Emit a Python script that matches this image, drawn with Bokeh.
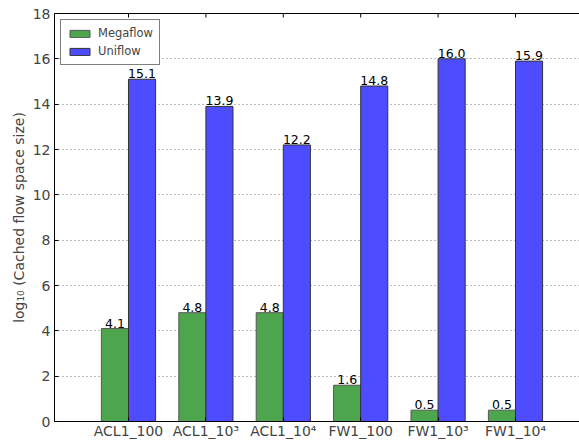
import math
from bokeh.plotting import figure
from bokeh.models import ColumnDataSource, FixedTicker, LinearAxis, Range1d, Legend, LegendItem, Grid
from bokeh.core.properties import value
from bokeh.embed import file_html
from bokeh.resources import INLINE

categories = ["ACL1_100", "ACL1_10\u00b3", "ACL1_10\u2074", "FW1_100", "FW1_10\u00b3", "FW1_10\u2074"]
megaflow = [4.1, 4.8, 4.8, 1.6, 0.5, 0.5]
uniflow = [15.1, 13.9, 12.2, 14.8, 16.0, 15.9]
y_ticks = [0, 2, 4, 6, 8, 10, 12, 14, 16, 18]

FONT = "DejaVu Sans"
W = 0.35
idx = list(range(len(categories)))

p = figure(width=579, height=441, output_backend="svg", toolbar_location=None,
           x_range=Range1d(-0.956, 5.827), y_range=Range1d(0, 18),
           min_border_left=54, min_border_top=13, min_border_bottom=10, min_border_right=0,
           x_axis_location=None, y_axis_location=None)
p.outline_line_color = None
p.background_fill_color = "white"
p.border_fill_color = "white"

src_m = ColumnDataSource(dict(x=[i - W / 2 for i in idx], top=megaflow,
                              lab=["%.1f" % v for v in megaflow]))
src_u = ColumnDataSource(dict(x=[i + W / 2 for i in idx], top=uniflow,
                              lab=["%.1f" % v for v in uniflow]))

p.xgrid.visible = False
p.ygrid.visible = False
g = Grid(dimension=1, ticker=FixedTicker(ticks=y_ticks), grid_line_color="#777777",
         grid_line_dash="1 3", grid_line_width=1)
p.add_layout(g)

rm = p.vbar(x="x", top="top", width=W, bottom=0, source=src_m,
            fill_color="#4da64d", line_color="#555555", line_width=1)
ru = p.vbar(x="x", top="top", width=W, bottom=0, source=src_u,
            fill_color="#4d4dff", line_color="#333333", line_width=1)

for s in (src_m, src_u):
    p.text(x="x", y="top", text="lab", source=s, text_align="center",
           text_baseline="bottom", y_offset=-1, text_font=value(FONT),
           text_font_size="12.5px", text_color="black")

# top tick marks (inward) at category centres
p.scatter(x=idx, y=[y_ticks[-1]] * len(idx), marker="dash", angle=math.pi / 2,
          size=8, line_color="black", line_width=1)

# axes
left = LinearAxis(ticker=FixedTicker(ticks=y_ticks),
                  axis_label="log\u2081\u2080 (Cached flow space size)")
left.major_tick_in = 4
left.major_tick_out = 0
left.minor_tick_line_color = None
left.major_label_standoff = 4
left.major_label_text_font = FONT
left.major_label_text_font_size = "14px"
left.axis_label_text_font = FONT
left.axis_label_text_font_size = "14px"
left.axis_label_text_font_style = "normal"
left.axis_label_standoff = 3
left.axis_line_color = "black"
p.add_layout(left, "left")

bottom = LinearAxis(ticker=FixedTicker(ticks=idx),
                    major_label_overrides={i: c for i, c in enumerate(categories)})
bottom.major_tick_in = 4
bottom.major_tick_out = 0
bottom.minor_tick_line_color = None
bottom.major_label_standoff = 1
bottom.major_label_text_font = FONT
bottom.major_label_text_font_size = "14px"
bottom.axis_line_color = "black"
p.add_layout(bottom, "below")

top = LinearAxis(ticker=FixedTicker(ticks=[]))
top.major_tick_line_color = None
top.minor_tick_line_color = None
top.major_label_standoff = 0
top.axis_line_color = "black"
p.add_layout(top, "above")

legend = Legend(items=[LegendItem(label="Megaflow", renderers=[rm]),
                       LegendItem(label="Uniflow", renderers=[ru])],
                location="top_left")
legend.border_line_color = "black"
legend.border_line_width = 1
legend.label_text_font = FONT
legend.label_text_font_size = "11.5px"
legend.glyph_width = 25
legend.glyph_height = 9
legend.label_height = 12
legend.spacing = 4
legend.padding = 6
legend.margin = 6
legend.label_standoff = 6
legend.background_fill_alpha = 1
p.add_layout(legend)

open("out.html", "w").write(file_html(p, INLINE))
